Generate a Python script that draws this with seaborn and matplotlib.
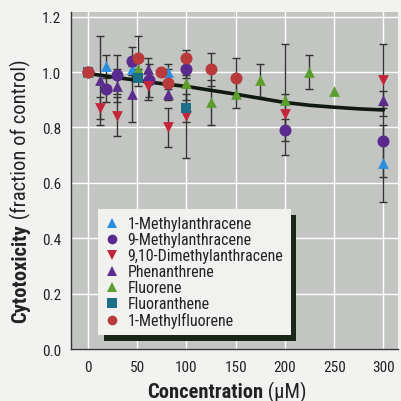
import numpy as np
import pandas as pd
import matplotlib
matplotlib.use("Agg")
import matplotlib.pyplot as plt
import matplotlib.patheffects as pe
from matplotlib.lines import Line2D
from matplotlib import font_manager
import seaborn as sns

# ---------------- data ----------------
series_names = ["1-Methylanthracene", "9-Methylanthracene", "9,10-Dimethylanthracene",
                "Phenanthrene", "Fluorene", "Fluoranthene", "1-Methylfluorene"]

conc_1ma = [0, 19, 45, 81, 300]
cyto_1ma = [1.00, 1.02, 1.01, 1.00, 0.67]
err_1ma = [0, 0.04, 0.03, 0.03, 0.14]

conc_9ma = [0, 19, 30, 45, 62, 100, 200, 300]
cyto_9ma = [1.00, 0.94, 0.99, 1.04, 0.97, 1.01, 0.79, 0.75]
err_9ma = [0, 0.05, 0.07, 0.05, 0.06, 0.03, 0.04, 0.13]

conc_dma = [12.5, 30, 61, 81, 100, 200, 300]
cyto_dma = [0.87, 0.84, 0.95, 0.80, 0.84, 0.85, 0.97]
err_dma = [0.04, 0.07, 0.05, 0.07, 0.15, 0.07, 0.13]

conc_phe = [12.5, 30, 45, 61, 81, 300]
cyto_phe = [0.97, 0.95, 0.92, 1.01, 0.92, 0.90]
err_phe = [0.16, 0.06, 0.10, 0.04, 0.02, 0.03]

conc_flu = [0, 51, 100, 125, 150, 175, 200, 225, 250]
cyto_flu = [1.00, 1.01, 0.96, 0.89, 0.92, 0.97, 0.90, 1.00, 0.93]
err_flu = [0, 0.04, 0.06, 0.08, 0.05, 0.06, 0.20, 0.06, 0]

conc_fla = [0, 51, 100]
cyto_fla = [1.00, 0.98, 0.87]
err_fla = [0, 0.03, 0.05]

conc_mf = [0, 51, 74, 81, 100, 125, 150]
cyto_mf = [1.00, 1.05, 1.00, 0.96, 1.05, 1.01, 0.98]
err_mf = [0, 0.08, 0, 0.05, 0.03, 0.06, 0.07]

fit_conc = [0, 25, 50, 75, 100, 125, 150, 175, 200, 225, 250, 275, 300]
fit_cyto = [0.995, 0.982, 0.970, 0.958, 0.948, 0.934, 0.920, 0.905, 0.890, 0.880, 0.873, 0.867, 0.863]

x_ticks = [0, 50, 100, 150, 200, 250, 300]
y_ticks = [0.0, 0.2, 0.4, 0.6, 0.8, 1.0, 1.2]

# ---------------- styling ----------------
colors = {
    "1-Methylanthracene": "#2a8ee0",
    "9-Methylanthracene": "#5a2a8e",
    "9,10-Dimethylanthracene": "#c4253a",
    "Phenanthrene": "#5b2d8c",
    "Fluorene": "#5c9e2e",
    "Fluoranthene": "#1d6f86",
    "1-Methylfluorene": "#b83a3a",
}
markers = {
    "1-Methylanthracene": "^",
    "9-Methylanthracene": "o",
    "9,10-Dimethylanthracene": "v",
    "Phenanthrene": "^",
    "Fluorene": "^",
    "Fluoranthene": "s",
    "1-Methylfluorene": "o",
}
sizes = {"^": 60, "v": 60, "o": 75, "s": 60}

installed = {f.name for f in font_manager.fontManager.ttflist}
pref = ["Roboto Condensed", "Archivo Narrow", "PT Sans Narrow", "Fira Sans Condensed",
        "IBM Plex Sans Condensed", "Liberation Sans Narrow", "Barlow Semi Condensed"]
narrow = next((p for p in pref if p in installed), None)

sns.set_theme(style="whitegrid")
FONT = ([narrow] if narrow else []) + ["DejaVu Sans"]
plt.rcParams["font.family"] = FONT

frames = []
for name, c, y, e in [
    (series_names[0], conc_1ma, cyto_1ma, err_1ma),
    (series_names[1], conc_9ma, cyto_9ma, err_9ma),
    (series_names[2], conc_dma, cyto_dma, err_dma),
    (series_names[3], conc_phe, cyto_phe, err_phe),
    (series_names[4], conc_flu, cyto_flu, err_flu),
    (series_names[5], conc_fla, cyto_fla, err_fla),
    (series_names[6], conc_mf, cyto_mf, err_mf),
]:
    frames.append(pd.DataFrame({"conc": c, "cyto": y, "err": e, "compound": name}))
df = pd.concat(frames, ignore_index=True)
fit_df = pd.DataFrame({"conc": fit_conc, "cyto": fit_cyto})

fig = plt.figure(figsize=(4.01, 4.02), dpi=100, facecolor="#f2f2f0")
ax = fig.add_axes([0.177, 0.129, 0.816, 0.839])
ax.set_facecolor("#c3c5c3")

# error bars
eb = df[df["err"] > 0]
ax.errorbar(eb["conc"], eb["cyto"], yerr=eb["err"], fmt="none", ecolor="#333333",
            elinewidth=1.0, capsize=3, capthick=1.0, zorder=2)

# fitted line
sns.lineplot(data=fit_df, x="conc", y="cyto", color="#111a11", lw=2.6, ax=ax, zorder=3)

# points
for name in series_names:
    sub = df[df["compound"] == name]
    m = markers[name]
    sns.scatterplot(data=sub, x="conc", y="cyto", marker=m, color=colors[name],
                    s=sizes[m], linewidth=0, ax=ax, zorder=4, legend=False)

ax.set_xlim(-17, 315)
ax.set_ylim(0, 1.217)
ax.set_xticks(x_ticks)
ax.set_xticklabels([str(v) for v in x_ticks])
ax.set_yticks(y_ticks)
ax.set_yticklabels([f"{v:.1f}" for v in y_ticks])
ax.tick_params(axis="both", length=0, labelsize=11, colors="#222222")
ax.tick_params(axis="x", pad=8)
ax.tick_params(axis="y", pad=7)
ax.grid(True, color="white", lw=1.0)
for s in ["top", "right"]:
    ax.spines[s].set_visible(False)
for s in ["left", "bottom"]:
    ax.spines[s].set_visible(True)
    ax.spines[s].set_color("#333333")
    ax.spines[s].set_linewidth(1.0)
ax.set_xlabel("")
ax.set_ylabel("")

# legend
handles = [Line2D([], [], ls="none", marker=markers[n], color=colors[n],
                  markersize=7, markeredgewidth=0) for n in series_names]
leg = ax.legend(handles, series_names, loc="upper left", bbox_to_anchor=(0.083, 0.415),
                frameon=True, fancybox=False, fontsize=11.5, handlelength=0.8,
                handletextpad=0.6, labelspacing=0.06, borderpad=0.45,
                borderaxespad=0)
fr = leg.get_frame()
fr.set_facecolor("#f1f1ef")
fr.set_edgecolor("none")
fr.set_alpha(1)
fr.set_path_effects([pe.withSimplePatchShadow(offset=(4, -4), shadow_rgbFace="#1a261a", alpha=1.0)])
for t in leg.get_texts():
    t.set_color("#222222")

# axis labels (bold part + regular part)
LBL = 14.8
t1 = fig.text(0.052, 0.197, "Cytotoxicity", rotation=90, ha="center", va="bottom",
              fontsize=LBL, fontweight="bold", color="#222222")
ax.annotate(" (fraction of control)", xy=(0.5, 1.0), xycoords=t1, rotation=90,
            ha="center", va="bottom", fontsize=LBL, color="#222222",
            annotation_clip=False)
t2 = fig.text(0.366, 0.024, "Concentration", ha="left", va="center",
              fontsize=LBL, fontweight="bold", color="#222222")
ax.annotate(" (\u00b5M)", xy=(1.0, 0.5), xycoords=t2, ha="left", va="center",
            fontsize=LBL, color="#222222", annotation_clip=False)

fig.savefig("out.png", dpi=100, facecolor=fig.get_facecolor())
